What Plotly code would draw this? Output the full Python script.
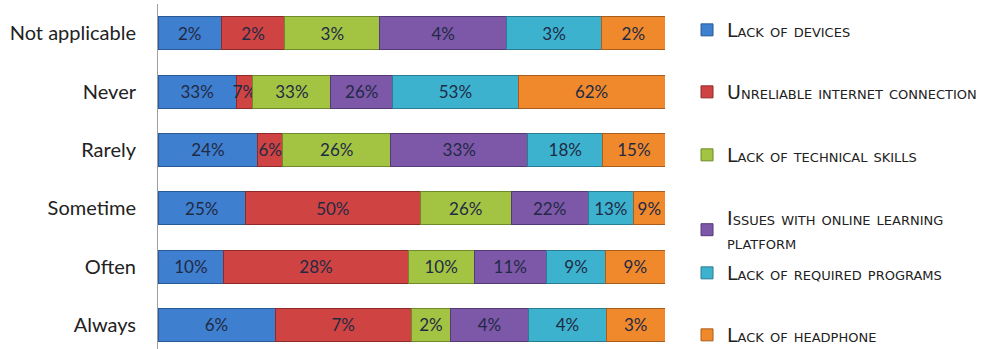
import plotly.graph_objects as go

categories = ["Always", "Often", "Sometime", "Rarely", "Never", "Not applicable"]
series_names = [
    "Lack of devices",
    "Unreliable internet connection",
    "Lack of technical skills",
    "Issues with online learning<br>platform",
    "Lack of required programs",
    "Lack of headphone",
]
lack_of_devices = [6, 10, 25, 24, 33, 2]
unreliable_internet = [7, 28, 50, 6, 7, 2]
lack_of_skills = [2, 10, 26, 26, 33, 3]
platform_issues = [4, 11, 22, 33, 26, 4]
lack_of_programs = [4, 9, 13, 18, 53, 3]
lack_of_headphone = [3, 9, 9, 15, 62, 2]

values = [lack_of_devices, unreliable_internet, lack_of_skills,
          platform_issues, lack_of_programs, lack_of_headphone]
colors = ["#3F7FCF", "#D04343", "#A3C443", "#7D57A8", "#3DB2CF", "#F0892C"]
edges = ["#2A5A96", "#8E2A2A", "#6E8A2A", "#553A78", "#2A7C92", "#A85D1C"]

# vertical centre (px from top) of each legend entry
legend_y_px = [30, 92, 155, 230, 273, 335]
legend_ids = ["legend", "legend2", "legend3", "legend4", "legend5", "legend6"]

fig = go.Figure()
for name, vals, c, e, lid in zip(series_names, values, colors, edges, legend_ids):
    fig.add_trace(go.Bar(
        y=categories, x=vals, name=name, orientation="h",
        marker=dict(color=c, line=dict(color=e, width=1)),
        text=[f"{v}%" for v in vals],
        textposition="inside", insidetextanchor="middle", textangle=0,
        textfont=dict(family="Lato", size=17, color="#1F2A44"),
        legend=lid,
    ))

H = 349
legend_common = dict(
    xref="container", yref="container", x=0.6884, xanchor="left",
    yanchor="middle", bgcolor="rgba(0,0,0,0)",
    font=dict(family="DejaVu Sans", size=19, color="#222222", variant="small-caps"),
)
legend_layout = {}
for lid, py in zip(legend_ids, legend_y_px):
    legend_layout[lid] = dict(legend_common, y=1 - py / H)

fig.update_layout(
    width=998, height=H,
    margin=dict(l=158, r=333, t=4, b=0, autoexpand=False),
    barmode="stack", barnorm="percent", bargap=0.434,
    plot_bgcolor="white", paper_bgcolor="white",
    uniformtext=dict(minsize=16, mode="show"),
    xaxis=dict(visible=False, range=[0, 100]),
    yaxis=dict(
        range=[-0.414, 5.5], showline=True, linecolor="#A0A0A0", linewidth=1,
        ticks="", ticklabelstandoff=17, showgrid=False, automargin=False,
        tickfont=dict(family="Lato", size=20, color="#222222"),
    ),
    showlegend=True,
    **legend_layout,
)

fig.write_html("out.html", config={"displayModeBar": False},
               post_script="document.body.style.margin='0';")
